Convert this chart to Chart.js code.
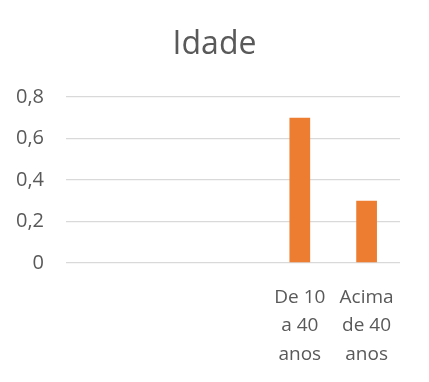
<!DOCTYPE html>
<html>
<head>
<meta charset="utf-8">
<script src="https://cdn.jsdelivr.net/npm/chart.js@4"></script>
<style>
html,body{margin:0;padding:0;background:#fff;}
#wrap{width:429px;height:382px;}
</style>
</head>
<body>
<div id="wrap"><canvas id="c" width="429" height="382"></canvas></div>
<script>
const categories = ['', '', '', ['De 10', 'a 40', 'anos'], ['Acima', 'de 40', 'anos']];
const values = [null, null, null, 0.7, 0.3];
const yTicks = [0, 0.2, 0.4, 0.6, 0.8];
const chartTitle = 'Idade';

const textColor = '#595959';
const fontFamily = "'Open Sans', sans-serif";

new Chart(document.getElementById('c'), {
  type: 'bar',
  data: {
    labels: categories,
    datasets: [{
      data: values,
      backgroundColor: '#ED7D31',
      categoryPercentage: 1,
      barPercentage: 0.31,
      yAxisID: 'y'
    }]
  },
  options: {
    responsive: false,
    animation: false,
    layout: { padding: { left: 0, right: 0, top: 26, bottom: 13 } },
    plugins: {
      legend: { display: false },
      tooltip: { enabled: false },
      title: {
        display: true,
        text: chartTitle,
        color: textColor,
        font: { family: fontFamily, size: 32, weight: 'normal', lineHeight: 1.2 },
        padding: { top: 0, bottom: 32.6 }
      }
    },
    scales: {
      x: {
        afterFit: (s) => { s.height = 106; },
        grid: { display: false, drawTicks: false },
        border: { display: false },
        ticks: {
          color: textColor,
          font: { family: fontFamily, size: 19, lineHeight: 1.5 },
          padding: 20,
          maxRotation: 0,
          autoSkip: false
        }
      },
      y: {
        min: 0,
        max: 0.8,
        afterFit: (s) => { s.width = 66; },
        afterBuildTicks: (s) => { s.ticks = yTicks.map(v => ({ value: v })); },
        grid: { color: '#d9d9d9', lineWidth: 1.3, drawTicks: false },
        border: { display: false },
        ticks: {
          color: textColor,
          font: { family: fontFamily, size: 20 },
          padding: 22,
          callback: (v) => v === 0 ? '0' : v.toFixed(1).replace('.', ',')
        }
      },
      yr: {
        position: 'right',
        min: 0,
        max: 0.8,
        afterFit: (s) => { s.width = 29; },
        grid: { display: false, drawTicks: false },
        border: { display: false },
        ticks: { display: false }
      }
    }
  }
});
</script>
</body>
</html>
